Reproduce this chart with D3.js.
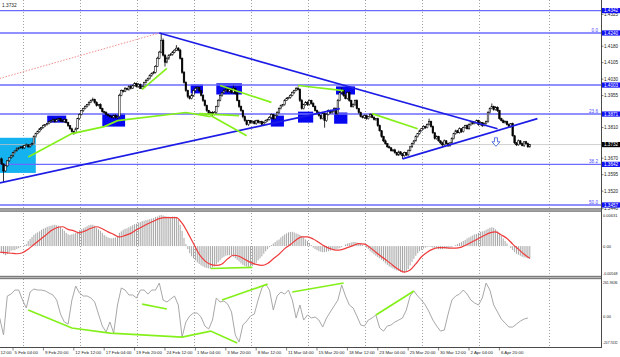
<!DOCTYPE html>
<html><head><meta charset="utf-8">
<script src="https://cdn.jsdelivr.net/npm/d3@7"></script>
<style>body{margin:0;background:#fff}svg{display:block}text{font-family:"Liberation Sans",Arial,sans-serif}</style>
</head><body><svg id="c" width="620" height="357"></svg>
<script>
const PIP = 0.0001;
const firstOpen = 1.3660;
const closes = [
1.3667,1.3644,1.3612,1.3635,1.3658,1.3672,1.3681,1.3695,1.3704,1.3713,
1.3717,1.3722,1.3717,1.3727,1.3731,1.3722,1.3731,1.3736,1.3768,1.3782,
1.3791,1.3804,1.3809,1.3818,1.3823,1.3827,1.3837,1.3841,1.3846,1.3837,
1.3846,1.3850,1.3841,1.3837,1.3846,1.3832,1.3818,1.3804,1.3791,1.3786,
1.3804,1.3850,1.3869,1.3887,1.3896,1.3905,1.3914,1.3924,1.3933,1.3937,
1.3924,1.3910,1.3914,1.3896,1.3882,1.3878,1.3869,1.3864,1.3859,1.3855,
1.3864,1.3855,1.3859,1.3956,1.3978,1.3974,1.3988,1.3983,1.3997,1.3988,
1.4001,1.4011,1.3997,1.4006,1.3988,1.3997,1.4015,1.4024,1.4033,1.4047,
1.4056,1.4061,1.4088,1.4125,1.4153,1.4207,1.4139,1.4107,1.4125,1.4139,
1.4143,1.4153,1.4162,1.4171,1.4162,1.4125,1.4061,1.4015,1.3978,1.3951,
1.3942,1.3956,1.3978,1.3988,1.3992,1.3978,1.3956,1.3933,1.3910,1.3887,
1.3873,1.3878,1.3869,1.3878,1.3905,1.3933,1.3956,1.3969,1.3978,1.3983,
1.3974,1.3983,1.3969,1.3988,1.3965,1.3933,1.3905,1.3887,1.3859,1.3841,
1.3823,1.3841,1.3832,1.3837,1.3827,1.3841,1.3832,1.3837,1.3823,1.3832,
1.3841,1.3846,1.3855,1.3869,1.3850,1.3864,1.3878,1.3896,1.3910,1.3914,
1.3933,1.3942,1.3946,1.3956,1.3969,1.3978,1.3988,1.3983,1.3933,1.3896,
1.3914,1.3924,1.3914,1.3933,1.3919,1.3905,1.3887,1.3878,1.3864,1.3850,
1.3873,1.3841,1.3869,1.3887,1.3878,1.3882,1.3896,1.3873,1.3933,1.3969,
1.3978,1.3956,1.3942,1.3969,1.3933,1.3905,1.3914,1.3933,1.3896,1.3878,
1.3859,1.3855,1.3864,1.3850,1.3859,1.3869,1.3855,1.3846,1.3850,1.3818,
1.3795,1.3768,1.3749,1.3736,1.3722,1.3717,1.3704,1.3708,1.3695,1.3685,
1.3699,1.3690,1.3681,1.3695,1.3685,1.3704,1.3722,1.3736,1.3749,1.3768,
1.3782,1.3795,1.3804,1.3814,1.3809,1.3823,1.3837,1.3814,1.3786,1.3759,
1.3768,1.3749,1.3740,1.3731,1.3749,1.3736,1.3727,1.3740,1.3759,1.3782,
1.3795,1.3786,1.3804,1.3791,1.3809,1.3818,1.3804,1.3823,1.3837,1.3827,
1.3832,1.3841,1.3823,1.3832,1.3818,1.3827,1.3837,1.3878,1.3896,1.3905,
1.3891,1.3901,1.3887,1.3850,1.3841,1.3832,1.3837,1.3823,1.3814,1.3827,
1.3772,1.3740,1.3731,1.3749,1.3736,1.3727,1.3745,1.3736,1.3722,1.3732];
const upperWicks = [
4,6,3,5,4,3,5,4,3,6,4,3,5,4,6,3,4,5,6,4,
5,3,4,6,3,5,4,3,6,4,5,3,4,6,5,3,4,3,5,4,
6,4,5,3,4,6,3,5,4,9,4,5,3,6,4,3,5,4,3,5,
4,6,3,8,5,4,6,3,5,7,4,5,3,6,4,5,3,6,4,5,
4,6,5,7,6,33,8,5,7,4,6,5,4,14,5,6,4,6,5,4,
5,7,4,6,5,3,4,6,5,4,3,5,6,7,4,6,5,3,6,5,
4,6,5,13,4,6,3,5,4,6,5,4,3,5,6,4,5,3,4,6,
5,4,6,5,3,4,6,5,4,3,6,5,4,6,5,4,6,9,5,7,
4,6,5,4,3,6,5,4,6,3,8,4,6,5,4,3,6,5,7,4,
14,5,6,4,5,3,6,4,5,3,4,6,5,4,3,5,4,6,3,4,
5,3,4,6,3,5,4,3,5,4,6,3,4,5,3,6,4,5,4,6,
3,5,4,6,4,5,13,4,5,3,6,4,3,5,6,4,5,3,6,4,
5,4,6,3,5,4,6,5,4,3,6,5,4,6,3,5,4,6,5,14,
4,6,5,3,4,6,5,4,6,3,5,4,3,6,4,5,3,4,5,3];
const lowerWicks = [
5,4,55,4,3,5,4,6,3,4,5,3,6,4,3,5,4,3,4,5,
3,4,6,3,5,4,3,6,4,5,3,4,6,3,5,4,6,5,4,9,
4,3,5,4,6,3,4,5,3,4,6,5,4,3,5,6,4,5,4,3,
5,4,6,3,4,5,3,4,6,5,3,4,5,6,3,4,5,4,3,5,
6,4,5,3,4,5,6,20,5,7,4,6,5,4,5,6,7,5,6,8,
5,4,6,5,4,6,5,7,4,6,5,8,6,4,5,3,4,6,5,4,
5,3,4,6,5,4,6,5,7,5,4,6,5,4,3,5,4,6,5,4,
3,5,4,6,5,4,3,5,4,6,5,3,4,5,4,6,3,5,7,5,
4,5,6,4,5,3,4,6,5,4,3,32,5,4,6,5,4,6,5,4,
5,6,4,5,6,4,5,6,4,5,3,4,6,5,4,5,3,4,6,5,
4,5,6,4,5,3,4,6,5,4,5,6,14,4,5,4,3,5,4,3,
4,5,3,4,6,3,4,5,6,4,5,4,6,14,5,4,6,5,3,4,
5,3,4,6,4,5,3,4,6,5,3,4,5,4,6,3,4,5,4,3,
5,4,6,5,4,3,5,4,6,5,4,6,5,4,5,3,6,4,5,4];
// MACD main (histogram), in pips, one per bar
const macdHistPips = [
-12,-14,-16,-18,-16,-12,-9,-8,-8,-6,-4,-2,0,2,4,10,14,18,22,25,
27,29,32,34,36,38,39,40,41,42,41,40,38,34,30,26,23,22,23,24,
26,28,31,33,35,37,39,41,42,42,40,36,33,30,26,22,19,17,16,15,
16,17,20,26,29,32,34,35,37,39,41,43,44,46,47,49,50,51,52,53,
54,55,57,58,60,61,60,59,58,58,57,58,58,57,52,42,30,16,4,-6,
-14,-20,-24,-28,-32,-35,-38,-40,-42,-43,-44,-44,-42,-40,-36,-32,-28,-24,-21,-19,
-18,-18,-19,-21,-24,-27,-30,-34,-37,-39,-40,-41,-40,-39,-37,-33,-28,-24,-20,-15,
-10,-6,-2,2,5,8,11,13,17,20,23,25,27,28,28,27,25,24,22,20,
17,13,10,6,2,-3,-6,-8,-10,-11,-12,-12,-11,-10,-9,-8,-7,-6,-5,-4,
-2,0,3,5,6,7,8,8,7,6,4,2,0,-3,-6,-10,-13,-16,-19,-22,
-24,-27,-30,-34,-37,-40,-42,-44,-46,-48,-49,-51,-52,-52,-50,-45,-38,-31,-25,-19,
-14,-10,-7,-5,-3,-2,-1,-2,-3,-4,-5,-6,-6,-6,-5,-5,-4,-3,-2,0,
2,4,6,8,10,12,15,17,19,21,23,24,26,28,29,30,32,34,36,37,
36,33,29,25,20,15,10,5,0,-4,-8,-12,-15,-17,-19,-21,-22,-23,-24,-25];
// MACD signal, in pips, every 3 bars
const signalStep = 3;
const macdSignalPips = [
-12,-13,-14,-15,-13,-6,3,12,21,30,
36,38,33,30,26,30,35,38,34,28,
23,18,21,25,32,38,44,49,54,56,
56,56,45,26,5,-16,-29,-36,-38,-35,
-25,-18,-20,-26,-32,-36,-38,-34,-25,-16,
-5,3,12,18,18,14,7,0,-5,-8,
-7,-3,1,5,4,-3,-12,-21,-29,-38,
-46,-51,-47,-35,-21,-12,-6,-3,-3,-4,
-4,-2,3,9,15,21,26,28,22,15,
4,-6,-16,-24];
// CCI, every 2 bars
const cciStep = 2;
const cciValues = [
-15,-146,154,169,200,200,123,62,185,208,
200,200,193,177,162,123,15,-46,-62,123,
231,177,154,154,139,108,15,-77,-123,-46,
-131,85,216,200,162,162,139,200,200,169,
200,200,254,123,108,131,154,85,-162,-46,
0,23,23,-8,-77,-100,-31,139,108,116,
92,31,-146,-200,-69,-39,0,15,123,216,
246,200,46,154,185,169,200,123,-15,85,
-31,8,-15,-8,-31,-85,-15,31,77,123,
239,154,85,62,0,-69,-77,-31,-15,8,
-92,-116,-77,-69,-46,-31,-15,46,154,193,
154,123,85,31,-31,-77,-116,-108,15,123,
154,169,200,169,123,100,85,139,254,200,
85,31,-23,-54,-85,-85,-62,-39,-23,-15];

// first label is only partly visible at the left edge in the reference
const timeLabelBars = [-9,7,23,39,55,71,87,103,119,135,151,167,183,199,215,231,247,263];
const timeLabels = ["12:00","5 Feb 04:00","9 Feb 20:00","12 Feb 12:00","17 Feb 04:00","19 Feb 20:00","24 Feb 12:00","1 Mar 04:00","3 Mar 20:00","8 Mar 12:00","11 Mar 04:00","15 Mar 20:00","18 Mar 12:00","23 Mar 04:00","25 Mar 20:00","30 Mar 12:00","2 Apr 04:00","6 Apr 20:00"];
const gridBars = [12,42,72,102,132,162,192,222,252,289];
const priceTicks = [1.4325,1.4180,1.4105,1.4030,1.3955,1.3810,1.3670,1.3595,1.3520,1.3440];
const levelPrices = [1.4342,1.4240,1.4003,1.3871,1.3642,1.3457];
const levelLabels = ["1.4342","1.4240","1.4003","1.3871","1.3642","1.3457"];
const fibPrices = [1.4240,1.3871,1.3642,1.3457];
const fibLabels = ["0.0","23.6","38.2","50.0"];
const currentPrice = 1.3732;
const macdTicks = [0.00631,0,-0.00568];
const macdTickLabels = ["0.00631","0.00","-0.00568"];
const cciTicks = [261.9636,0,-207.7432];
const cciTickLabels = ["261.9636","0.00","-207.7432"];

// annotations: [bar, price]
const greenMain = [
 [[15,1.3676],[38,1.3782],[55,1.3814],[62,1.3841],[98,1.3878],[111,1.3859]],
 [[75,1.3983],[88,1.4079]],
 [[105,1.3873],[126,1.3864]],
 [[111,1.3864],[130,1.3772]],
 [[116,1.4001],[143,1.3924]],
 [[157,1.4001],[181,1.3978]],
 [[196,1.3873],[220,1.3804]]];
const blueTrends = [
 [[0,1.3557],[179,1.3896]],
 [[84,1.4240],[262,1.3804]],
 [[212,1.3667],[283,1.3850]]];
const redDotted = [[0,1.4033],[84,1.4240]];
const blueBoxes = [
 [25,35,1.3864,1.3832],[54,66,1.3873,1.3814],[100.5,107,1.4006,1.3965],[114,127.5,1.4011,1.3960],
 [142.7,149.6,1.3864,1.3814],[157,165,1.3882,1.3832],[176,183,1.3878,1.3827],[177,187,1.3997,1.3960]];
const cyanBox = [0,19,1.3763,1.3603];
const arrowAt = [261.2,1.3763];
const greenMacd = [[[111,-0.0044],[133,-0.0042]]];
const greenCci = [
 [[15,46],[38,-92],[58,-131],[96,-162],[111,-116],[125,-208]],
 [[75,92],[88,54]],
 [[117,123],[141,246]],
 [[154,185],[181,254]],
 [[198,8],[218,193]]];

// ---------- drawing ----------
const W = 620, H = 357, AX = 601;
const x = d3.scaleLinear().domain([0,280]).range([-0.3,531.7]);
const y = d3.scaleLinear().domain([1.3457,1.4240]).range([205,33]);
const yM = d3.scaleLinear().domain([-0.00568,0.00631]).range([275,214]);
const yC = d3.scaleLinear().domain([-207.7432,261.9636]).range([343,282]);

const svg = d3.select('#c');
svg.append('rect').attr('width',W).attr('height',H).attr('fill','#fff');
const defs = svg.append('defs');
function clip(id,y0,y1){defs.append('clipPath').attr('id',id).append('rect').attr('x',0).attr('y',y0).attr('width',AX).attr('height',y1-y0);}
clip('cm',0,208.5); clip('cd',211.5,276); clip('cc',279,347);

// grid
svg.append('g').selectAll('line').data(gridBars).join('line')
 .attr('x1',d=>Math.round(x(d))+0.5).attr('x2',d=>Math.round(x(d))+0.5).attr('y1',0).attr('y2',347)
 .attr('stroke','#8c8c8c').attr('stroke-width',0.8).attr('stroke-dasharray','1,2');

const gm = svg.append('g').attr('clip-path','url(#cm)');
// boxes
gm.append('rect').attr('x',x(cyanBox[0])).attr('width',x(cyanBox[1])-x(cyanBox[0]))
 .attr('y',y(cyanBox[2])).attr('height',y(cyanBox[3])-y(cyanBox[2])).attr('fill','#15b2f0');
gm.selectAll('rect.bb').data(blueBoxes).join('rect').attr('class','bb')
 .attr('x',d=>x(d[0])).attr('width',d=>x(d[1])-x(d[0])).attr('y',d=>y(d[2])).attr('height',d=>y(d[3])-y(d[2]))
 .attr('fill','#0808f0');
// level lines
gm.selectAll('line.lv').data(levelPrices).join('line').attr('class','lv')
 .attr('x1',0).attr('x2',AX).attr('y1',d=>y(d)).attr('y2',d=>y(d)).attr('stroke','#6b6bff').attr('stroke-width',1.4);
gm.append('line').attr('x1',0).attr('x2',AX).attr('y1',y(currentPrice)).attr('y2',y(currentPrice)).attr('stroke','#c4c4c4').attr('stroke-width',0.8);
// fib texts
gm.selectAll('text.fb').data(fibPrices).join('text').attr('class','fb')
 .attr('x',598).attr('y',d=>y(d)-1).attr('text-anchor','end').attr('font-size',4.6).attr('fill','#4a4aff')
 .text((d,i)=>fibLabels[i]);
// red dotted
const lineP = d3.line().x(d=>x(d[0])).y(d=>y(d[1]));
gm.append('path').attr('d',lineP(redDotted)).attr('fill','none').attr('stroke','#f08080').attr('stroke-width',0.9).attr('stroke-dasharray','1.5,1.5');
// candles
const candles = closes.map((c,i)=>{const o = i ? closes[i-1] : firstOpen;
 return {i,o,c,h:Math.max(o,c)+upperWicks[i]*PIP,l:Math.min(o,c)-lowerWicks[i]*PIP};});
gm.selectAll('line.wk').data(candles).join('line').attr('class','wk')
 .attr('x1',d=>x(d.i)).attr('x2',d=>x(d.i)).attr('y1',d=>y(d.h)).attr('y2',d=>y(d.l)).attr('stroke','#000').attr('stroke-width',0.8);
gm.selectAll('rect.bd').data(candles).join('rect').attr('class','bd')
 .attr('x',d=>x(d.i)-0.8).attr('width',1.6).attr('y',d=>y(Math.max(d.o,d.c)))
 .attr('height',d=>Math.max(0.5,Math.abs(y(d.o)-y(d.c))))
 .attr('fill',d=>d.c>=d.o?'#fff':'#000').attr('stroke','#000').attr('stroke-width',0.55);
// trend lines
gm.selectAll('path.bt').data(blueTrends).join('path').attr('class','bt').attr('d',lineP)
 .attr('fill','none').attr('stroke','#1c1ce6').attr('stroke-width',1.7);
gm.selectAll('path.gm').data(greenMain).join('path').attr('class','gm').attr('d',lineP)
 .attr('fill','none').attr('stroke','#84f01a').attr('stroke-width',1.7);
// arrow
const ax0 = x(arrowAt[0]), ay0 = y(arrowAt[1]);
gm.append('path').attr('d',`M${ax0-1.5},${ay0}h3v4h2.5l-4,4.5l-4,-4.5h2.5z`)
 .attr('fill','#fff').attr('stroke','#4466dd').attr('stroke-width',0.9);

// MACD
const gd = svg.append('g').attr('clip-path','url(#cd)');
gd.selectAll('line.h').data(macdHistPips).join('line').attr('class','h')
 .attr('x1',(d,i)=>x(i)).attr('x2',(d,i)=>x(i)).attr('y1',yM(0)).attr('y2',d=>yM(d*PIP))
 .attr('stroke','#a6a6a6').attr('stroke-width',1);
gd.append('path').datum(macdSignalPips).attr('d',d3.line().x((d,i)=>x(i*signalStep)).y(d=>yM(d*PIP)).curve(d3.curveMonotoneX))
 .attr('fill','none').attr('stroke','#ef3b3b').attr('stroke-width',1.2);
gd.selectAll('path.g').data(greenMacd).join('path').attr('class','g').attr('d',d3.line().x(d=>x(d[0])).y(d=>yM(d[1])))
 .attr('fill','none').attr('stroke','#84f01a').attr('stroke-width',1.7);

// CCI
const gc = svg.append('g').attr('clip-path','url(#cc)');
gc.append('path').datum(cciValues).attr('d',d3.line().x((d,i)=>x(i*cciStep)).y(d=>yC(d)))
 .attr('fill','none').attr('stroke','#a8a8a8').attr('stroke-width',1);
gc.selectAll('path.g').data(greenCci).join('path').attr('class','g').attr('d',d3.line().x(d=>x(d[0])).y(d=>yC(d[1])))
 .attr('fill','none').attr('stroke','#84f01a').attr('stroke-width',1.7);

// separators & frame
[208.5,276].forEach(s=>{
 svg.append('rect').attr('x',0).attr('y',s).attr('width',AX).attr('height',3).attr('fill','#b8b8b8');
 svg.append('line').attr('x1',0).attr('x2',AX).attr('y1',s+0.3).attr('y2',s+0.3).attr('stroke','#5a5a5a').attr('stroke-width',0.8);
 svg.append('line').attr('x1',0).attr('x2',AX).attr('y1',s+2.7).attr('y2',s+2.7).attr('stroke','#5a5a5a').attr('stroke-width',0.8);
});
svg.append('line').attr('x1',AX+0.5).attr('x2',AX+0.5).attr('y1',0).attr('y2',348).attr('stroke','#4a4a4a').attr('stroke-width',1);
svg.append('line').attr('x1',0).attr('x2',AX+1).attr('y1',347.5).attr('y2',347.5).attr('stroke','#4a4a4a').attr('stroke-width',1);

// right axis main
const ra = svg.append('g');
ra.selectAll('line.t').data(priceTicks).join('line').attr('class','t')
 .attr('x1',AX).attr('x2',AX+2.5).attr('y1',d=>y(d)).attr('y2',d=>y(d)).attr('stroke','#333').attr('stroke-width',0.6);
ra.selectAll('text.t').data(priceTicks).join('text').attr('class','t')
 .attr('x',AX+3).attr('y',d=>y(d)+1.7).attr('font-size',4.6).attr('fill','#222').text(d=>d.toFixed(4));
ra.selectAll('rect.l').data(levelPrices).join('rect').attr('class','l')
 .attr('x',AX+1).attr('width',18).attr('y',d=>y(d)-2.6).attr('height',5.2).attr('fill','#1010f4');
ra.selectAll('text.l').data(levelPrices).join('text').attr('class','l')
 .attr('x',AX+3).attr('y',d=>y(d)+1.7).attr('font-size',4.6).attr('fill','#fff').text((d,i)=>levelLabels[i]);
ra.append('rect').attr('x',AX+1).attr('width',18).attr('y',y(currentPrice)-2.6).attr('height',5.2).attr('fill','#000');
ra.append('text').attr('x',AX+3).attr('y',y(currentPrice)+1.7).attr('font-size',4.6).attr('fill','#fff').text(currentPrice.toFixed(4));
// indicator axes (long labels squeezed to fit)
function axisText(sel,labels){
 sel.attr('x',AX+2).attr('font-size',4.1).attr('fill','#222').text((d,i)=>labels[i])
  .each(function(d,i){ if(labels[i].length>=7){ d3.select(this).attr('textLength',14.5).attr('lengthAdjust','spacingAndGlyphs'); } });
}
axisText(ra.selectAll('text.m').data(macdTicks).join('text').attr('class','m')
 .attr('y',(d,i)=>Math.min(Math.max(yM(d)+1.6,216.5),275.2)), macdTickLabels);
axisText(ra.selectAll('text.c').data(cciTicks).join('text').attr('class','c')
 .attr('y',(d,i)=>Math.min(Math.max(yC(d)+1.6,283.5),343.6)), cciTickLabels);

// time axis
const ta = svg.append('g');
ta.selectAll('line').data(timeLabelBars).join('line')
 .attr('x1',d=>x(d)).attr('x2',d=>x(d)).attr('y1',347.5).attr('y2',350.5).attr('stroke','#333').attr('stroke-width',0.6);
ta.selectAll('text').data(timeLabelBars).join('text')
 .attr('x',d=>Math.max(x(d)+1.5,0.5)).attr('y',353.8).attr('font-size',4.4).attr('fill','#222').text((d,i)=>timeLabels[i]);

// title value
svg.append('text').attr('x',2).attr('y',7).attr('font-size',4.8).attr('fill','#222').text(currentPrice.toFixed(4));
</script>
</body></html>
